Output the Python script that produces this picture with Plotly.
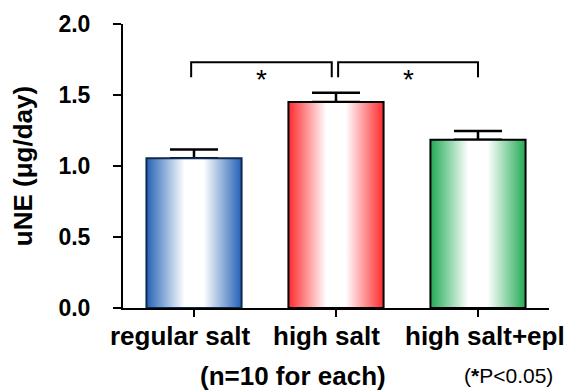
import plotly.graph_objects as go

categories = ["regular salt", "high salt", "high salt+epl"]
values = [1.055, 1.45, 1.185]
errors = [0.062, 0.065, 0.062]
edge_colors = ["#2462b6", "#ff2a2e", "#22aa55"]
outline_colors = ["#0e2a50", "#000000", "#000000"]
y_ticks = [0.0, 0.5, 1.0, 1.5, 2.0]
y_ticktext = ["0.0", "0.5", "1.0", "1.5", "2.0"]
comparisons = [(0, 1), (1, 2)]
bracket_level = 1.73
bracket_drop = 0.105

FONT = "Arial, Liberation Sans, Helvetica, sans-serif"
BAR_W = 0.67
LABEL_SHIFT = [-14, -10, 7]
xs = list(range(len(categories)))

fig = go.Figure()

for i, (v, c, oc) in enumerate(zip(values, edge_colors, outline_colors)):
    x0, x1 = i - BAR_W / 2, i + BAR_W / 2
    fig.add_trace(go.Scatter(
        x=[x0, x0, x1, x1, x0], y=[0, v, v, 0, 0],
        mode="lines", fill="toself",
        fillgradient=dict(type="horizontal",
                          colorscale=[[0, c], [0.4, "white"], [0.6, "white"], [1, c]]),
        line=dict(color=oc, width=2),
        hoverinfo="skip", showlegend=False,
    ))

fig.add_trace(go.Bar(
    x=xs, y=values, width=BAR_W,
    marker=dict(color="rgba(0,0,0,0)", line=dict(width=0)),
    error_y=dict(type="data", array=errors, arrayminus=[0] * len(errors),
                 symmetric=False, color="black", thickness=2.5, width=24),
    showlegend=False,
))

shapes = []
annotations = []
last = len(categories) - 1
for a, b in comparisons:
    xa = a - 0.02 if a == 0 else a + 0.015
    xb = b if b == last else b - 0.03
    shapes.append(dict(type="path", xref="x", yref="y",
                       path=f"M {xa} {bracket_level - bracket_drop} L {xa} {bracket_level} "
                            f"L {xb} {bracket_level} L {xb} {bracket_level - bracket_drop}",
                       line=dict(color="black", width=2)))
    annotations.append(dict(x=(xa + xb) / 2, y=bracket_level, xref="x", yref="y",
                            text="*", showarrow=False, yanchor="top",
                            font=dict(family=FONT, size=28, color="black")))

# category labels
for i, (cat, sh) in enumerate(zip(categories, LABEL_SHIFT)):
    annotations.append(dict(x=i, y=0, xref="x", yref="paper", text=cat,
                            showarrow=False, xshift=sh, yshift=-28, yanchor="middle",
                            font=dict(family=FONT, size=26, color="black", weight="bold")))

# x axis line extending slightly left of y axis
shapes.append(dict(type="line", xref="paper", yref="y", x0=-0.022, x1=0, y0=0, y1=0,
                   line=dict(color="black", width=2)))

annotations.append(dict(x=0.399, y=-0.241, xref="paper", yref="paper",
                        text="(n=10 for each)", showarrow=False, yanchor="middle",
                        font=dict(family=FONT, size=26, color="black", weight="bold")))
annotations.append(dict(x=0.795, y=-0.237, xref="paper", yref="paper",
                        text="(<b>*</b>P<0.05)", showarrow=False, xanchor="left",
                        yanchor="middle",
                        font=dict(family=FONT, size=21, color="black")))

fig.update_layout(
    width=569, height=382,
    margin=dict(l=115, r=28, t=16, b=82),
    plot_bgcolor="white", paper_bgcolor="white",
    shapes=shapes, annotations=annotations,
    font=dict(family=FONT, color="black"),
    xaxis=dict(range=[-0.5, 2.5], tickvals=xs, ticktext=[""] * len(categories),
               showgrid=False, zeroline=False, automargin=False,
               showline=True, linecolor="black", linewidth=2,
               ticks="outside", ticklen=7, tickwidth=2, tickcolor="black"),
    yaxis=dict(range=[0, 2.0], tickvals=y_ticks, ticktext=y_ticktext,
               showgrid=False, zeroline=False, automargin=False,
               showline=True, linecolor="black", linewidth=2,
               ticks="outside", ticklen=8, tickwidth=2, tickcolor="black",
               ticklabelstandoff=18,
               tickfont=dict(family=FONT, size=23, color="black", weight="bold")),
)
fig.update_yaxes(title=dict(text="uNE (μg/day)", standoff=20,
                            font=dict(family=FONT, size=26, color="black", weight="bold")))

fig.write_html("out.html")
